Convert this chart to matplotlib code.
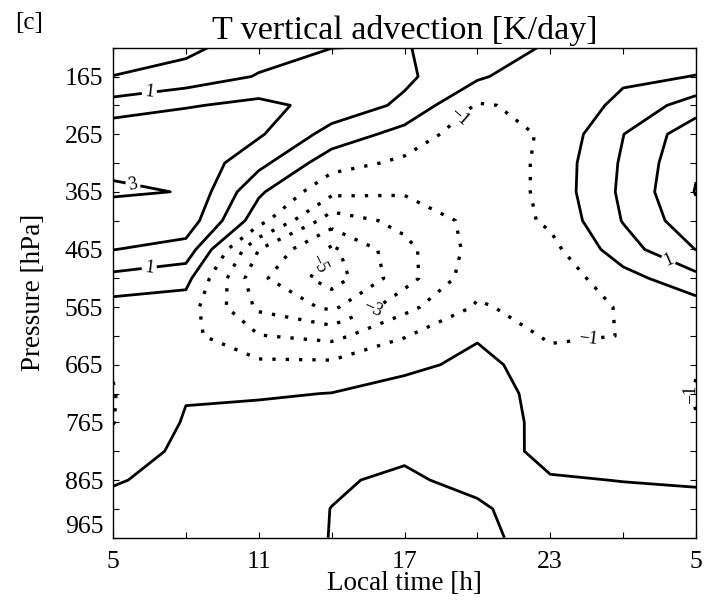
import numpy as np
import matplotlib
matplotlib.use("Agg")
import matplotlib.pyplot as plt

plt.rcParams['font.family'] = ['Liberation Serif', 'DejaVu Serif']
plt.rcParams['axes.unicode_minus'] = True

# local time (h), 3-hourly, one full day starting at 05 h
hours = [5, 8, 11, 14, 17, 20, 23, 26, 29]
# pressure levels (hPa)
pressure = [115, 165, 215, 265, 315, 365, 415, 465, 515,
            565, 615, 665, 715, 765, 815, 865, 915, 965]
# temperature tendency from vertical advection (K/day), rows = pressure, cols = hours
advection = [
    [-0.60, -0.245, 0.57, 0.99, 1.05, 0.55, -0.12, -0.40, -0.35],
    [0.02, 0.40, 1.067, 1.50, 1.19, 0.17, -0.85, -0.16, 0.02],
    [1.40, 1.90, 2.29, 1.62, 0.81, -1.10, -0.73, 0.243, 1.50],
    [2.75, 2.90, 2.12, 0.64, -0.38, -1.65, -0.82, 0.98, 2.66],
    [2.83, 2.80, 1.30, -0.60, -1.20, -1.90, -0.66, 1.13, 2.90],
    [3.11, 2.97, 0.17, -1.75, -1.90, -1.90, -0.66, 1.20, 3.05],
    [2.50, 2.60, -0.60, -3.54, -2.70, -1.70, -0.835, 1.05, 2.70],
    [2.02, 1.63, -3.00, -5.20, -3.30, -1.63, -1.30, 0.57, 2.02],
    [0.71, 0.33, -3.78, -5.50, -3.40, -1.35, -1.62, -0.377, 0.70],
    [-0.40, -0.50, -3.20, -4.20, -2.30, -0.89, -1.37, -0.94, -0.45],
    [-0.80, -0.70, -1.95, -2.30, -1.05, -0.10, -1.16, -0.98, -0.80],
    [-0.95, -0.50, -0.76, -0.75, -0.30, 0.31, -0.55, -0.75, -0.97],
    [-1.04, -0.065, -0.10, 0.02, 0.50, 0.80, -0.60, -0.60, -1.03],
    [-1.02, 0.09, 0.35, 0.30, 0.60, 0.85, -0.47, -0.55, -0.98],
    [-0.73, 0.30, 0.50, 0.55, 0.85, 0.80, -0.44, -0.35, -0.60],
    [-0.106, 0.40, 0.60, 0.90, 1.15, 0.72, 0.11, -0.03, -0.10],
    [0.38, 0.50, 0.60, 1.01, 1.30, 1.16, 0.40, 0.47, 0.30],
    [0.50, 0.50, 0.60, 1.02, 1.30, 1.30, 0.49, 0.50, 0.45],
]

# solid (>= 0) and dotted (< 0) contour levels; odd ones carry labels
positive_plain = [0, 2]
positive_labelled = [1, 3]
negative_plain = [-4, -2]
negative_labelled = [-5, -3, -1]

hour_ticks = [5, 8, 11, 14, 17, 20, 23, 26, 29]
hour_ticklabels = ['5', '', '11', '', '17', '', '23', '', '5']
pressure_ticks = list(range(115, 966, 50))
pressure_ticklabels = [str(p) if p % 100 == 65 else '' for p in pressure_ticks]

# label anchor points (hour, hPa)
positive_label_spots = [(6.5, 194), (6.5, 500), (5.8, 357), (27.9, 480)]
negative_label_spots = [(19.3, 237), (24.6, 627), (13.4, 488), (15.7, 570), (28.8, 717)]

DOTS = (0, (1.0, 3.0))


def level_text(v):
    return f"{v:.0f}".replace('-', '\u2212')


fig = plt.figure(figsize=(7.07, 6.05), dpi=100)
ax = fig.add_axes([113 / 707, 1 - 537.7 / 605, 583 / 707, 490 / 605])

T, P = np.meshgrid(hours, pressure)
Z = np.array(advection)

solid_kw = dict(colors='k', linewidths=2.0, linestyles='solid')
dotted_kw = dict(colors='k', linewidths=2.4, linestyles='solid')
ax.contour(T, P, Z, levels=positive_plain, **solid_kw)
pos = ax.contour(T, P, Z, levels=positive_labelled, **solid_kw)
neg_plain = ax.contour(T, P, Z, levels=negative_plain, **dotted_kw)
neg = ax.contour(T, P, Z, levels=negative_labelled, **dotted_kw)
neg_plain.set_linestyle(DOTS)
neg.set_linestyle(DOTS)

ax.clabel(pos, fmt=level_text, fontsize=13, inline=True, inline_spacing=3,
          manual=positive_label_spots)
ax.clabel(neg, fmt=level_text, fontsize=13, inline=True, inline_spacing=3,
          manual=negative_label_spots)

ax.set_xlim(5, 29)
ax.set_ylim(965, 115)
ax.set_xticks(hour_ticks)
ax.set_xticklabels(hour_ticklabels)
ax.set_yticks(pressure_ticks)
ax.set_yticklabels(pressure_ticklabels)
ax.tick_params(direction='in', length=4, width=0.8, top=True, right=True,
               labelsize=18.5)
ax.tick_params(axis='x', pad=9.5)
ax.tick_params(axis='y', pad=7)
for lab in ax.get_yticklabels():
    if lab.get_text() == '965':
        lab.set_verticalalignment('bottom')
for s in ax.spines.values():
    s.set_linewidth(1.0)

ax.set_title('T vertical advection [K/day]', fontsize=24.5, pad=6.5)
ax.set_xlabel('Local time [h]', fontsize=19.5)
ax.set_ylabel('Pressure [hPa]', fontsize=19.5)
ax.xaxis.set_label_coords(0.5, -0.068)
ax.yaxis.set_label_coords(-0.115, 0.5)

fig.text(15 / 707, 1 - 12 / 605, '[c]', fontsize=18, va='top', ha='left')

fig.savefig('out.png', dpi=100)
